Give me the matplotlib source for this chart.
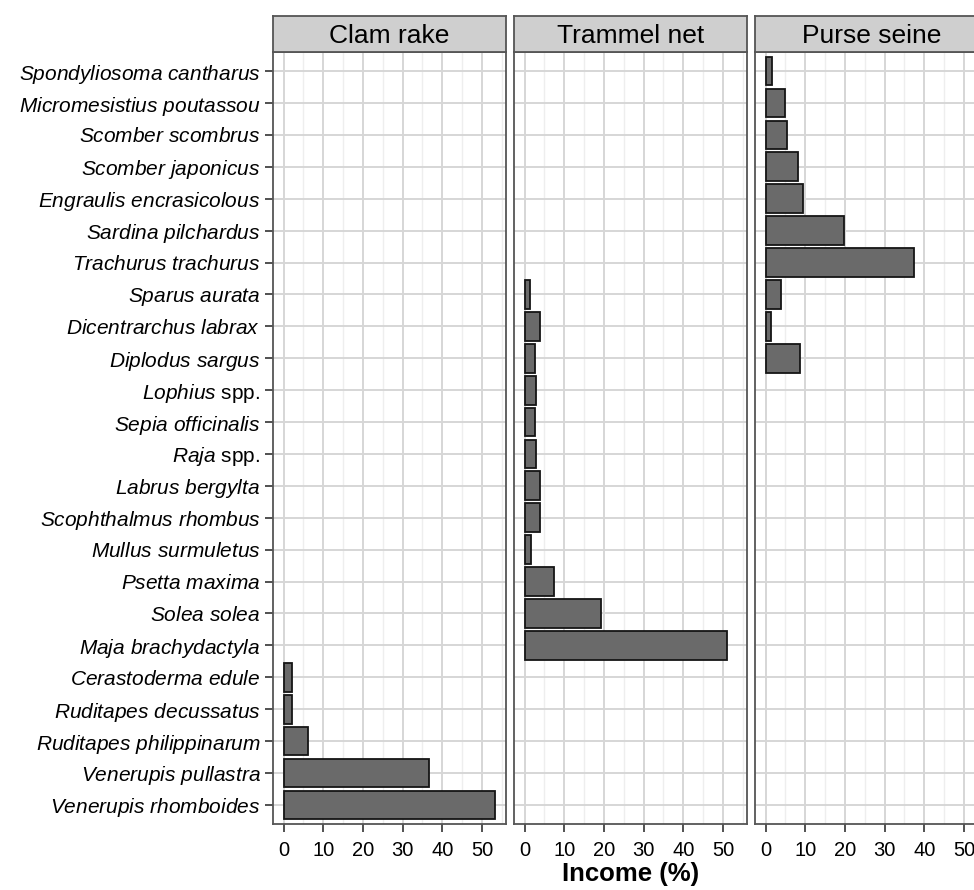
import matplotlib.pyplot as plt

plt.rcParams['font.family'] = 'Liberation Sans'
plt.rcParams['mathtext.fontset'] = 'custom'
plt.rcParams['mathtext.rm'] = 'Liberation Sans'
plt.rcParams['mathtext.it'] = 'Liberation Sans:italic'

# species, top to bottom
species = [r"$\mathit{Spondyliosoma\ cantharus}$", r"$\mathit{Micromesistius\ poutassou}$",
           r"$\mathit{Scomber\ scombrus}$", r"$\mathit{Scomber\ japonicus}$",
           r"$\mathit{Engraulis\ encrasicolous}$", r"$\mathit{Sardina\ pilchardus}$",
           r"$\mathit{Trachurus\ trachurus}$", r"$\mathit{Sparus\ aurata}$",
           r"$\mathit{Dicentrarchus\ labrax}$", r"$\mathit{Diplodus\ sargus}$",
           r"$\mathit{Lophius}$ spp.", r"$\mathit{Sepia\ officinalis}$",
           r"$\mathit{Raja}$ spp.", r"$\mathit{Labrus\ bergylta}$",
           r"$\mathit{Scophthalmus\ rhombus}$", r"$\mathit{Mullus\ surmuletus}$",
           r"$\mathit{Psetta\ maxima}$", r"$\mathit{Solea\ solea}$",
           r"$\mathit{Maja\ brachydactyla}$", r"$\mathit{Cerastoderma\ edule}$",
           r"$\mathit{Ruditapes\ decussatus}$", r"$\mathit{Ruditapes\ philippinarum}$",
           r"$\mathit{Venerupis\ pullastra}$", r"$\mathit{Venerupis\ rhomboides}$"]

gears = ["Clam rake", "Trammel net", "Purse seine"]

# income (%) per species index (0 = top)
clam_idx = [19, 20, 21, 22, 23]
clam_val = [2.2, 2.2, 6.2, 36.6, 53.4]

trammel_idx = [7, 8, 9, 10, 11, 12, 13, 14, 15, 16, 17, 18]
trammel_val = [1.4, 3.8, 2.5, 2.9, 2.6, 2.9, 3.8, 3.8, 1.7, 7.3, 19.3, 51.1]

purse_idx = [0, 1, 2, 3, 4, 5, 6, 7, 8, 9]
purse_val = [1.7, 4.9, 5.4, 8.2, 9.5, 19.7, 37.3, 3.8, 1.3, 8.6]

data = [(clam_idx, clam_val), (trammel_idx, trammel_val), (purse_idx, purse_val)]

W, H = 974, 890
fig = plt.figure(figsize=(W / 100, H / 100), dpi=100)

pw, gap = 233, 8
left0, top, bottom, strip_h = 273, 52, 824, 36
n = len(species)
xmax = 53.4
pad = xmax * 0.05

for k, (idx, vals) in enumerate(data):
    x0 = left0 + k * (pw + gap)
    ax = fig.add_axes([x0 / W, (H - bottom) / H, pw / W, (bottom - top) / H])
    ypos = [n - 1 - i for i in idx]
    ax.barh(ypos, vals, height=0.9, color='#6a6a6a', edgecolor='#151515', linewidth=1.3, zorder=3)
    ax.set_xlim(-pad, xmax + pad)
    ax.set_ylim(-0.6, n - 0.4)
    ax.set_xticks(range(0, 51, 10))
    ax.set_xticks(range(5, 56, 10), minor=True)
    ax.set_yticks(range(n))
    ax.grid(True, which='major', color='#d6d6d6', linewidth=1.4, zorder=0)
    ax.grid(True, which='minor', axis='x', color='#eeeeee', linewidth=1.0, zorder=0)
    ax.tick_params(axis='x', which='minor', length=0)
    ax.tick_params(axis='x', which='major', length=6, width=1.1, color='#222222',
                   labelsize=14.5, pad=6)
    if k == 0:
        ax.set_yticklabels(species[::-1], fontsize=15)
        ax.tick_params(axis='y', length=6, width=1.1, color='#222222', pad=3)
    else:
        ax.tick_params(axis='y', length=0, labelleft=False)
    for s in ax.spines.values():
        s.set_color('#555555')
        s.set_linewidth(1.3)

    sax = fig.add_axes([x0 / W, (H - top) / H, pw / W, strip_h / H])
    sax.set_xticks([])
    sax.set_yticks([])
    sax.set_facecolor('#cfcfcf')
    for s in sax.spines.values():
        s.set_color('#555555')
        s.set_linewidth(1.3)
    sax.text(0.5, 0.45, gears[k], ha='center', va='center', fontsize=19,
             transform=sax.transAxes)

fig.text((left0 + (3 * pw + 2 * gap) / 2) / W, 4 / H, "Income (%)",
         ha='center', va='bottom', fontsize=18.5, fontweight='bold')

fig.savefig('out.png', dpi=100)
